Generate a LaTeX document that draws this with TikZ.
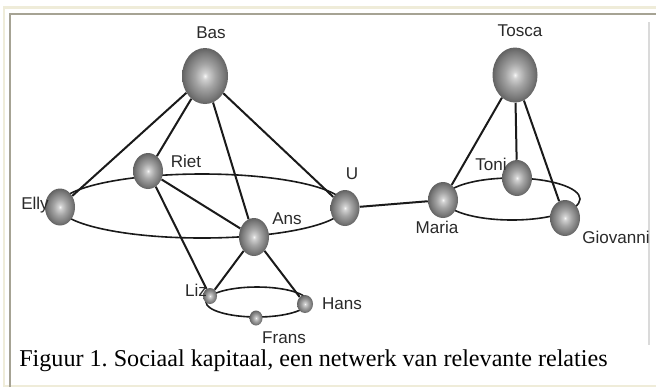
\documentclass[tikz,border=0pt]{standalone}
\usepackage{fontspec}
\setmainfont{Liberation Serif}
\newfontfamily\lblfont{Liberation Sans}
\usetikzlibrary{shapes.geometric}

\definecolor{orbcore}{HTML}{F6F6F6}
\definecolor{orbmid}{HTML}{A4A4A4}
\definecolor{orbedge}{HTML}{777777}
\definecolor{orbrim}{HTML}{626262}
\definecolor{cream}{HTML}{EFECD9}
\definecolor{bevel}{HTML}{A6A394}
\definecolor{edgegray}{HTML}{DADADA}
\definecolor{ink}{HTML}{1A1A1A}
\definecolor{lbltext}{HTML}{2A2A2A}

% centred highlight, darkening towards the rim
\pgfdeclareradialshading{orb}{\pgfpoint{0bp}{0bp}}{%
  color(0bp)=(orbcore); color(3bp)=(orbcore!55!orbmid);
  color(11bp)=(orbmid); color(21bp)=(orbedge);
  color(25bp)=(orbrim); color(50bp)=(orbrim)}

\tikzset{
  person/.style 2 args={ellipse, inner sep=0pt, draw=none, shading=orb,
    minimum width={#1*1.5pt}, minimum height={#2*1.5pt}},
  lbl/.style={font=\lblfont\fontsize{12.8}{14}\selectfont, text=lbltext, inner sep=0pt},
  tie/.style={draw=ink, line width=1.5pt},
  ring/.style={draw=ink, line width=1.2pt},
}

\begin{document}
\begin{tikzpicture}[x=0.75pt,y=-0.75pt]
\useasboundingbox (0,0) rectangle (656,387);
\fill[white] (0,0) rectangle (656,387);

% page frame
\draw[cream, line width=1.6pt] (4,387) -- (4,7.5) -- (656,7.5);
\draw[cream, line width=1.2pt] (4,386) -- (656,386);
\draw[bevel, line width=1.6pt] (10,387) -- (10,14) -- (656,14);
\draw[edgegray, line width=1.1pt] (649,22) -- (649,345);

% rings
\draw[ring] (202,206) ellipse [x radius=143, y radius=32];
\draw[ring] (257,302) ellipse [x radius=51, y radius=15];
\draw[ring] (512,199) ellipse [x radius=68, y radius=21];

% people
\node[person={23}{28}] (bas) at (205,76) {};
\node[person={22.5}{27.5}] (tosca) at (515,75) {};
\node[person={15}{18}] (riet) at (148,171) {};
\node[person={15}{18.5}] (elly) at (60,207) {};
\node[person={14.5}{18}] (u) at (345,208) {};
\node[person={15}{19}] (ans) at (254,237) {};
\node[person={15}{18}] (maria) at (443,200) {};
\node[person={15}{18}] (toni) at (517,178) {};
\node[person={15}{18}] (giovanni) at (565,218) {};
\node[person={7}{8}] (liz) at (210,296) {};
\node[person={8}{9}] (hans) at (305,304) {};
\node[person={6.5}{7.5}] (frans) at (256,318) {};

% relations
\draw[tie] (bas) -- (elly);
\draw[tie] (bas) -- (riet);
\draw[tie] (bas) -- (ans);
\draw[tie] (bas) -- (u);
\draw[tie] (riet) -- (ans);
\draw[tie] (riet) -- (liz);
\draw[tie] (ans) -- (liz);
\draw[tie] (ans) -- (hans);
\draw[tie] (u) -- (maria);
\draw[tie] (tosca) -- (maria);
\draw[tie] (tosca) -- (toni);
\draw[tie] (tosca) -- (giovanni);

% names
\node[lbl] (bas-l) at (211,33) {Bas};
\node[lbl] (tosca-l) at (520,31) {Tosca};
\node[lbl] (riet-l) at (186,161) {Riet};
\node[lbl] (elly-l) at (35,205) {Elly};
\node[lbl] (u-l) at (352,174) {U};
\node[lbl] (ans-l) at (287,219) {Ans};
\node[lbl] (maria-l) at (437,227) {Maria};
\node[lbl] (toni-l) at (491,164) {Toni};
\node[lbl, anchor=west] (giovanni-l) at (582,237) {Giovanni};
\node[lbl] (liz-l) at (196,290) {Liz};
\node[lbl] (hans-l) at (342,304) {Hans};
\node[lbl] (frans-l) at (284,338) {Frans};

% caption
\node[anchor=base west, inner sep=0pt, font=\fontsize{18.1}{21}\selectfont] (caption)
  at (19,366) {\frenchspacing Figuur 1. Sociaal kapitaal, een netwerk van relevante relaties};
\end{tikzpicture}
\end{document}
